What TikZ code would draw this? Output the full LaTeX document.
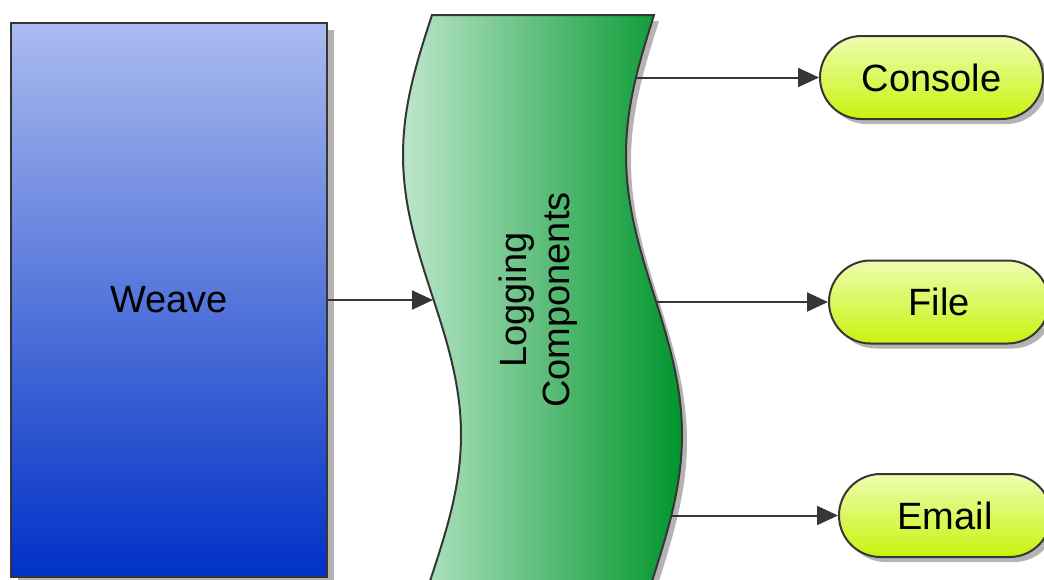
\documentclass[tikz,border=0pt]{standalone}
\usepackage{fontspec}
\setmainfont{Liberation Sans}
\usetikzlibrary{arrows.meta,shapes.misc,shadows}

\definecolor{edge}{HTML}{363636}
\definecolor{weavetop}{HTML}{AABBEE}
\definecolor{weavebot}{HTML}{0030C6}
\definecolor{logleft}{HTML}{BCE6CA}
\definecolor{logright}{HTML}{00952C}
\definecolor{pilltop}{HTML}{EEFDB0}
\definecolor{pillbot}{HTML}{C8F30E}
\definecolor{shadowgray}{HTML}{B4B4B4}

\begin{document}
\begin{tikzpicture}[x=1pt,y=-1pt,
  lbl/.style={font=\fontsize{38}{43}\selectfont, text=black},
  link/.style={draw=edge, line width=2pt, -{Triangle[length=21pt,width=19pt]}},
  weavebox/.style={lbl, rectangle, draw=edge, line width=2.6pt,
    top color=weavetop, bottom color=weavebot,
    minimum width=316pt, minimum height=554pt, inner sep=0pt,
    drop shadow={shadow xshift=7pt, shadow yshift=-7pt, fill=shadowgray, opacity=1}},
  sink/.style={lbl, rounded rectangle, draw=edge, line width=2pt,
    top color=pilltop, bottom color=pillbot,
    minimum height=83pt, inner sep=0pt,
    drop shadow={shadow xshift=5pt, shadow yshift=-5pt, fill=shadowgray, opacity=1}},
  % wavy band: one full sine period (560 units) down each side
  logshape/.style={insert path={
    (432,15) -- (654,15)
    -- plot[domain=15:600, samples=90, variable=\t]
         ({654-28*sin(0.642857*(\t-15))}, \t)
    -- plot[domain=600:15, samples=90, variable=\t]
         ({432-29*sin(0.642857*(\t-15))}, \t)
    -- cycle}}]

\useasboundingbox (0,0) rectangle (1044,579);
\clip (0,0) rectangle (1044,579);

% source block
\node[weavebox] (weave) at (169,300) {Weave};

% logging band with its shadow
\fill[shadowgray, shift={(5,6)}, logshape];
\path[draw=edge, line width=2pt, left color=logleft, right color=logright, logshape];
\node[lbl, rotate=90, align=center] (logging) at (538,300) {Logging\\Components};

% points on the band's edges
\coordinate (log-in) at (433,300);
\coordinate (log-console) at (636,77.5);
\coordinate (log-file) at (656,302);
\coordinate (log-email) at (671,515.5);

% outputs
\node[sink, minimum width=223pt] (console) at (931.5,77.5) {Console};
\node[sink, minimum width=220pt] (file) at (939,302) {File};
\node[sink, minimum width=212pt] (email) at (945,515.5) {Email};

% connectors
\draw[link] (weave.east) -- (log-in);
\draw[link] (log-console) -- (console.west);
\draw[link] (log-file) -- (file.west);
\draw[link] (log-email) -- (email.west);
\end{tikzpicture}
\end{document}
